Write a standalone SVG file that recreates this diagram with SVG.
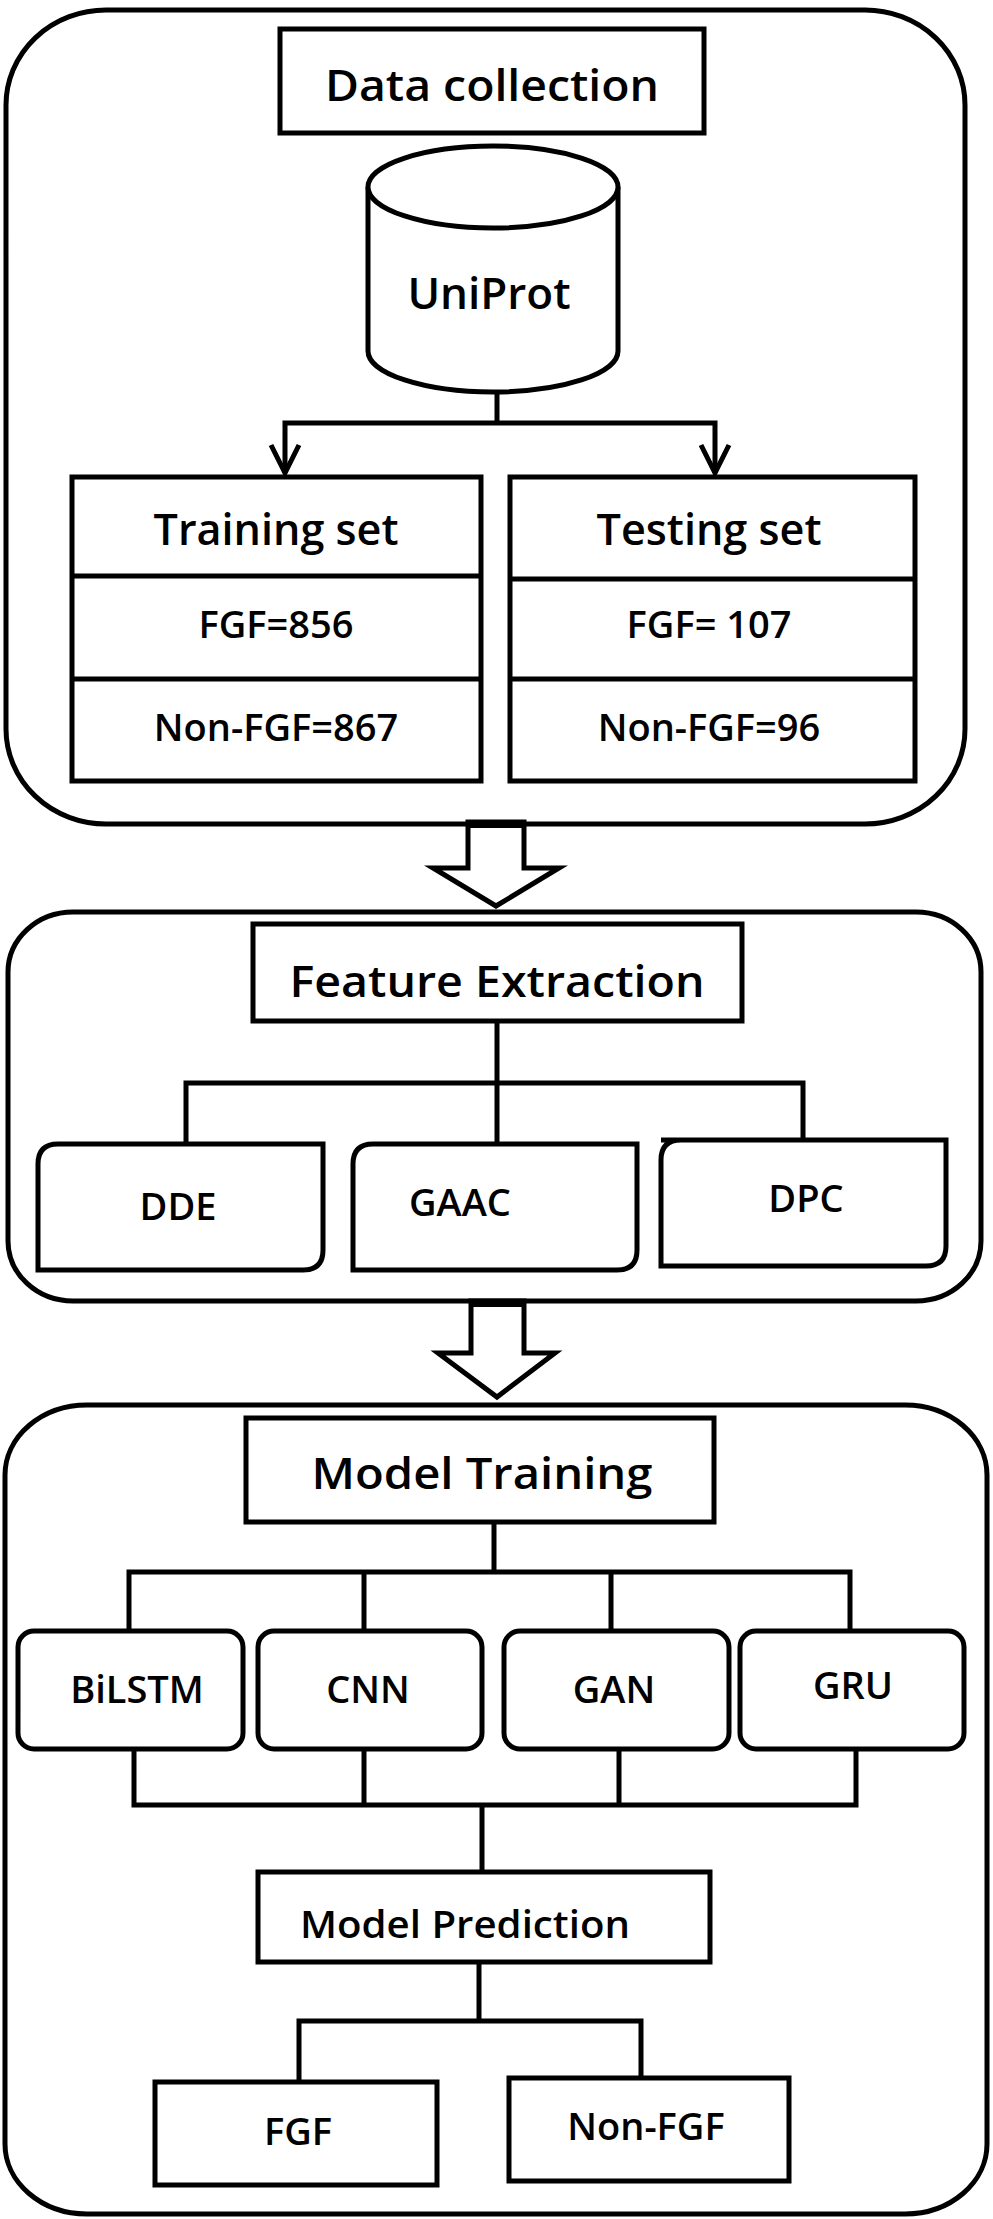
<svg xmlns="http://www.w3.org/2000/svg" width="993" height="2219" viewBox="0 0 993 2219">
<style>
.b{fill:#fff;stroke:#000;stroke-width:5}
.l{fill:none;stroke:#000;stroke-width:5}
text{font-family:"Open Sans","Liberation Sans",sans-serif;font-weight:600;fill:#000;text-anchor:middle}
.h{font-size:44px}
.m{font-size:38px}
</style>
<rect width="993" height="2219" fill="#fff"/>
<g id="stage1">
<rect class="b" x="6" y="10" width="959" height="814" rx="100" ry="95"/>
</g>
<g id="data-collection"><rect class="b" x="280" y="29" width="424" height="104"/><text class="h" x="492" y="101" textLength="334" lengthAdjust="spacingAndGlyphs">Data collection</text></g>
<g id="uniprot"><path class="b" d="M368,187 V351 A125,41 0 0 0 618,351 V187"/><ellipse class="b" cx="493" cy="187" rx="125" ry="41"/><text class="h" x="489" y="309">UniProt</text></g>
<g id="training-set"><rect class="b" x="72" y="477" width="409" height="304"/><line class="l" x1="72" y1="576" x2="481" y2="576"/><line class="l" x1="72" y1="679" x2="481" y2="679"/>
<text class="h" x="276" y="545" textLength="245" lengthAdjust="spacingAndGlyphs">Training set</text><text class="m" x="276" y="638">FGF=856</text><text class="m" x="276" y="741">Non-FGF=867</text></g>
<g id="testing-set"><rect class="b" x="510" y="477" width="405" height="304"/><line class="l" x1="510" y1="579" x2="915" y2="579"/><line class="l" x1="510" y1="679" x2="915" y2="679"/>
<text class="h" x="709" y="545" textLength="225" lengthAdjust="spacingAndGlyphs">Testing set</text><text class="m" x="709" y="638">FGF= 107</text><text class="m" x="709" y="741">Non-FGF=96</text></g>
<g id="stage2"><rect class="b" x="8" y="912" width="973" height="389" rx="65" ry="60"/></g>
<g id="feature-extraction"><rect class="b" x="253" y="924" width="489" height="97"/><text class="h" x="497" y="997" textLength="415" lengthAdjust="spacingAndGlyphs">Feature Extraction</text></g>
<g id="dde"><path class="b" d="M58,1144 H323 V1250 Q323,1270 303,1270 H38 V1164 Q38,1144 58,1144 Z"/><text class="m" x="178" y="1220">DDE</text></g>
<g id="gaac"><path class="b" d="M373,1144 H637 V1250 Q637,1270 617,1270 H353 V1164 Q353,1144 373,1144 Z"/><text class="m" x="460" y="1216">GAAC</text></g>
<g id="dpc"><path class="b" d="M661,1140 H946 V1246 Q946,1266 926,1266 H661 V1160 Q661,1140 681,1140 Z" /><text class="m" x="806" y="1212">DPC</text></g>
<g id="stage3"><rect class="b" x="5" y="1405" width="982" height="809" rx="82" ry="70"/></g>
<g id="model-training"><rect class="b" x="246" y="1418" width="468" height="104"/><text class="h" x="482" y="1489" textLength="341" lengthAdjust="spacingAndGlyphs">Model Training</text></g>
<g id="bilstm"><rect class="b" x="18" y="1631" width="225" height="118" rx="16"/><text class="m" x="137" y="1703">BiLSTM</text></g>
<g id="cnn"><rect class="b" x="258" y="1631" width="224" height="118" rx="16"/><text class="m" x="368" y="1703">CNN</text></g>
<g id="gan"><rect class="b" x="504" y="1631" width="225" height="118" rx="16"/><text class="m" x="614" y="1703">GAN</text></g>
<g id="gru"><rect class="b" x="740" y="1631" width="224" height="118" rx="16"/><text class="m" x="853" y="1699">GRU</text></g>
<g id="model-prediction"><rect class="b" x="258" y="1872" width="452" height="90"/><text class="m" x="465" y="1938" textLength="330" lengthAdjust="spacingAndGlyphs">Model Prediction</text></g>
<g id="fgf"><rect class="b" x="155" y="2082" width="282" height="103"/><text class="m" x="298" y="2145">FGF</text></g>
<g id="non-fgf"><rect class="b" x="509" y="2078" width="280" height="103"/><text class="m" x="646" y="2140">Non-FGF</text></g>
<g id="connectors">
<polyline class="l" points="497,392 497,423"/>
<polyline class="l" points="285,473 285,423 715,423 715,473"/>
<polyline class="l" points="271,445 285,473 299,445"/>
<polyline class="l" points="701,445 715,473 729,445"/>
<polygon class="b" points="468,822 524,822 524,868 559,868 496,906 433,868 468,868"/>
<rect x="468" y="820" width="56" height="8" fill="#000"/>
<polyline class="l" points="497,1021 497,1144"/>
<polyline class="l" points="186,1144 186,1083 803,1083 803,1140"/>
<polygon class="b" points="471,1301 524,1301 524,1353 555,1353 497,1397 438,1353 471,1353"/>
<rect x="471" y="1299" width="53" height="8" fill="#000"/>
<polyline class="l" points="494,1522 494,1572"/>
<polyline class="l" points="129,1631 129,1572 850,1572 850,1631"/>
<polyline class="l" points="364,1572 364,1631"/>
<polyline class="l" points="611,1572 611,1631"/>
<polyline class="l" points="134,1749 134,1805 856,1805 856,1749"/>
<polyline class="l" points="364,1749 364,1805"/>
<polyline class="l" points="619,1749 619,1805"/>
<polyline class="l" points="482,1805 482,1872"/>
<polyline class="l" points="479,1962 479,2021"/>
<polyline class="l" points="299,2082 299,2021 641,2021 641,2078"/>
</g>
</svg>
